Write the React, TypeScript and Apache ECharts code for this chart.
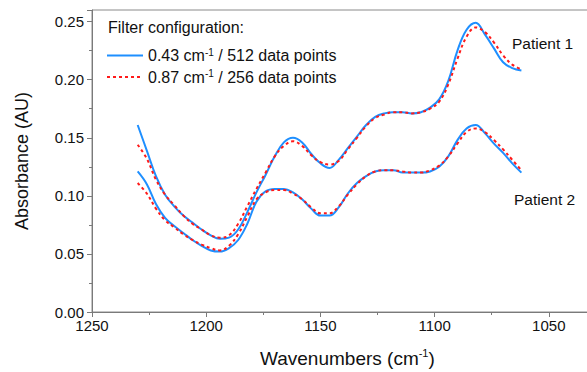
import React, { useEffect, useRef } from "react";
import * as echarts from "echarts";

const wavenumbers = [1230, 1226, 1222, 1218, 1214, 1210, 1206, 1202, 1198, 1194, 1190, 1186, 1182, 1178, 1174, 1170, 1166, 1162, 1158, 1154, 1150, 1146, 1142, 1138, 1134, 1130, 1126, 1122, 1118, 1114, 1110, 1106, 1102, 1098, 1094, 1090, 1086, 1082, 1078, 1074, 1070, 1066, 1062];

const patient1Fine = [0.161, 0.139, 0.117, 0.101, 0.091, 0.083, 0.077, 0.071, 0.066, 0.063, 0.064, 0.071, 0.086, 0.103, 0.118, 0.134, 0.146, 0.150, 0.146, 0.136, 0.128, 0.124, 0.131, 0.141, 0.151, 0.161, 0.168, 0.171, 0.172, 0.172, 0.171, 0.172, 0.176, 0.183, 0.199, 0.225, 0.243, 0.249, 0.239, 0.227, 0.215, 0.210, 0.208];
const patient1Coarse = [0.144, 0.132, 0.114, 0.101, 0.092, 0.083, 0.076, 0.071, 0.066, 0.064, 0.066, 0.076, 0.091, 0.106, 0.120, 0.134, 0.143, 0.147, 0.143, 0.135, 0.129, 0.127, 0.130, 0.140, 0.150, 0.160, 0.167, 0.170, 0.172, 0.172, 0.171, 0.172, 0.175, 0.181, 0.196, 0.218, 0.237, 0.245, 0.241, 0.232, 0.221, 0.213, 0.209];
const patient2Fine = [0.121, 0.110, 0.093, 0.081, 0.074, 0.068, 0.062, 0.057, 0.053, 0.052, 0.055, 0.062, 0.076, 0.095, 0.104, 0.106, 0.106, 0.103, 0.097, 0.089, 0.083, 0.083, 0.090, 0.102, 0.111, 0.117, 0.121, 0.122, 0.122, 0.120, 0.120, 0.120, 0.121, 0.125, 0.134, 0.148, 0.158, 0.161, 0.154, 0.145, 0.137, 0.128, 0.120];
const patient2Coarse = [0.111, 0.102, 0.089, 0.079, 0.073, 0.067, 0.062, 0.058, 0.055, 0.053, 0.057, 0.067, 0.082, 0.097, 0.103, 0.105, 0.105, 0.102, 0.097, 0.090, 0.085, 0.085, 0.091, 0.101, 0.110, 0.117, 0.121, 0.122, 0.122, 0.121, 0.120, 0.120, 0.122, 0.126, 0.134, 0.145, 0.155, 0.158, 0.155, 0.148, 0.140, 0.131, 0.122];

const seriesNames = ["0.43 cm-1 / 512 data points", "0.87 cm-1 / 256 data points"];
const patientLabels = ["Patient 1", "Patient 2"];
const legendTitle = "Filter configuration:";
const xTitle = "Wavenumbers (cm-1)";
const yTitle = "Absorbance (AU)";

const FONT = "'Liberation Sans', Arial, sans-serif";
const BLUE = "#1E8FFF";
const RED = "#FF1A1A";

function toPairs(values: number[]) {
  return wavenumbers.map((w, i) => [w, values[i]]);
}

export default function App() {
  const ref = useRef<HTMLDivElement>(null);
  useEffect(() => {
    if (!ref.current) return;
    const chart = echarts.init(ref.current, null, { renderer: "svg" });
    const fine = { type: "solid", width: 2, color: BLUE };
    const coarse = { type: [3, 3], width: 2, color: RED };
    const mk = (name: string, values: number[], ls: any, z: number) => ({
      type: "line",
      name,
      data: toPairs(values),
      smooth: 0.4,
      symbol: "none",
      showSymbol: false,
      legendIcon: "none",
      lineStyle: ls,
      itemStyle: { color: ls.color },
      z,
    });
    chart.setOption({
      animation: false,
      backgroundColor: "#fff",
      textStyle: { fontFamily: FONT },
      grid: {
        left: 92,
        top: 10,
        width: 571,
        height: 302,
        show: true,
        borderColor: "#8a8a8a",
        borderWidth: 1,
        containLabel: false,
        outerBoundsMode: "none",
      },
      legend: {
        orient: "vertical",
        left: 101,
        top: 42,
        itemWidth: 36,
        itemHeight: 12,
        itemGap: 5,
        data: seriesNames,
        itemStyle: { opacity: 0 },
        textStyle: {
          fontFamily: FONT,
          fontSize: 16,
          color: "#111",
          rich: {
            n: { fontSize: 16, fontFamily: FONT, color: "#111", lineHeight: 17 },
            s: { fontSize: 10, fontFamily: FONT, color: "#111", verticalAlign: "top", lineHeight: 17 },
          },
        },
        formatter: (name: string) => {
          const [a, b] = name.split("-1");
          return `{n|${a}}{s|-1}{n|${b}}`;
        },
      },
      xAxis: {
        type: "value",
        min: 1000,
        max: 1250,
        interval: 50,
        inverse: true,
        axisLine: { show: true, onZero: false, lineStyle: { color: "#7a7a7a", width: 1 } },
        axisTick: { show: true, length: 5, lineStyle: { color: "#7a7a7a" } },
        minorTick: { show: true, splitNumber: 2, length: 3, lineStyle: { color: "#7a7a7a" } },
        splitLine: { show: false },
        axisLabel: {
          fontSize: 15,
          color: "#111",
          fontFamily: FONT,
          margin: 6,
          showMinLabel: false,
          formatter: (v: number) => String(v),
        },
      },
      yAxis: {
        type: "value",
        min: 0,
        max: 0.26,
        interval: 0.05,
        name: yTitle,
        nameLocation: "middle",
        nameGap: 61,
        nameTextStyle: { fontSize: 18, color: "#111", fontFamily: FONT },
        axisLine: { show: true, lineStyle: { color: "#7a7a7a", width: 1 } },
        axisTick: { show: true, length: 5, lineStyle: { color: "#7a7a7a" } },
        minorTick: { show: true, splitNumber: 2, length: 3, lineStyle: { color: "#7a7a7a" } },
        splitLine: { show: false },
        axisLabel: {
          fontSize: 15,
          color: "#111",
          fontFamily: FONT,
          margin: 8,
          formatter: (v: number) => v.toFixed(2),
        },
      },
      graphic: [
        {
          type: "text",
          left: 108,
          top: 19,
          style: { text: legendTitle, fontSize: 16, fill: "#111", fontFamily: FONT },
        },
        {
          type: "text",
          x: 512,
          y: 43,
          style: { text: patientLabels[0], fontSize: 15.5, fill: "#111", fontFamily: FONT, verticalAlign: "middle" },
        },
        {
          type: "text",
          x: 514,
          y: 199,
          style: { text: patientLabels[1], fontSize: 15.5, fill: "#111", fontFamily: FONT, verticalAlign: "middle" },
        },
        {
          type: "text",
          x: 260,
          y: 358,
          style: {
            text: `{n|${xTitle.split("-1")[0]}}{s|-1}{n|${xTitle.split("-1")[1]}}`,
            verticalAlign: "middle",
            fontFamily: FONT,
            rich: {
              n: { fontSize: 19, fontFamily: FONT, fill: "#111", lineHeight: 22 },
              s: { fontSize: 11, fontFamily: FONT, fill: "#111", verticalAlign: "top", lineHeight: 22 },
            },
          },
        },
      ],
      series: [
        mk(seriesNames[0], patient1Fine, fine, 2),
        mk(seriesNames[1], patient1Coarse, coarse, 3),
        mk(seriesNames[0], patient2Fine, fine, 2),
        mk(seriesNames[1], patient2Coarse, coarse, 3),
      ],
    });
    return () => chart.dispose();
  }, []);
  return (
    <div
      ref={ref}
      style={{ position: "fixed", left: 0, top: 0, width: 587, height: 372, background: "#fff" }}
    />
  );
}
